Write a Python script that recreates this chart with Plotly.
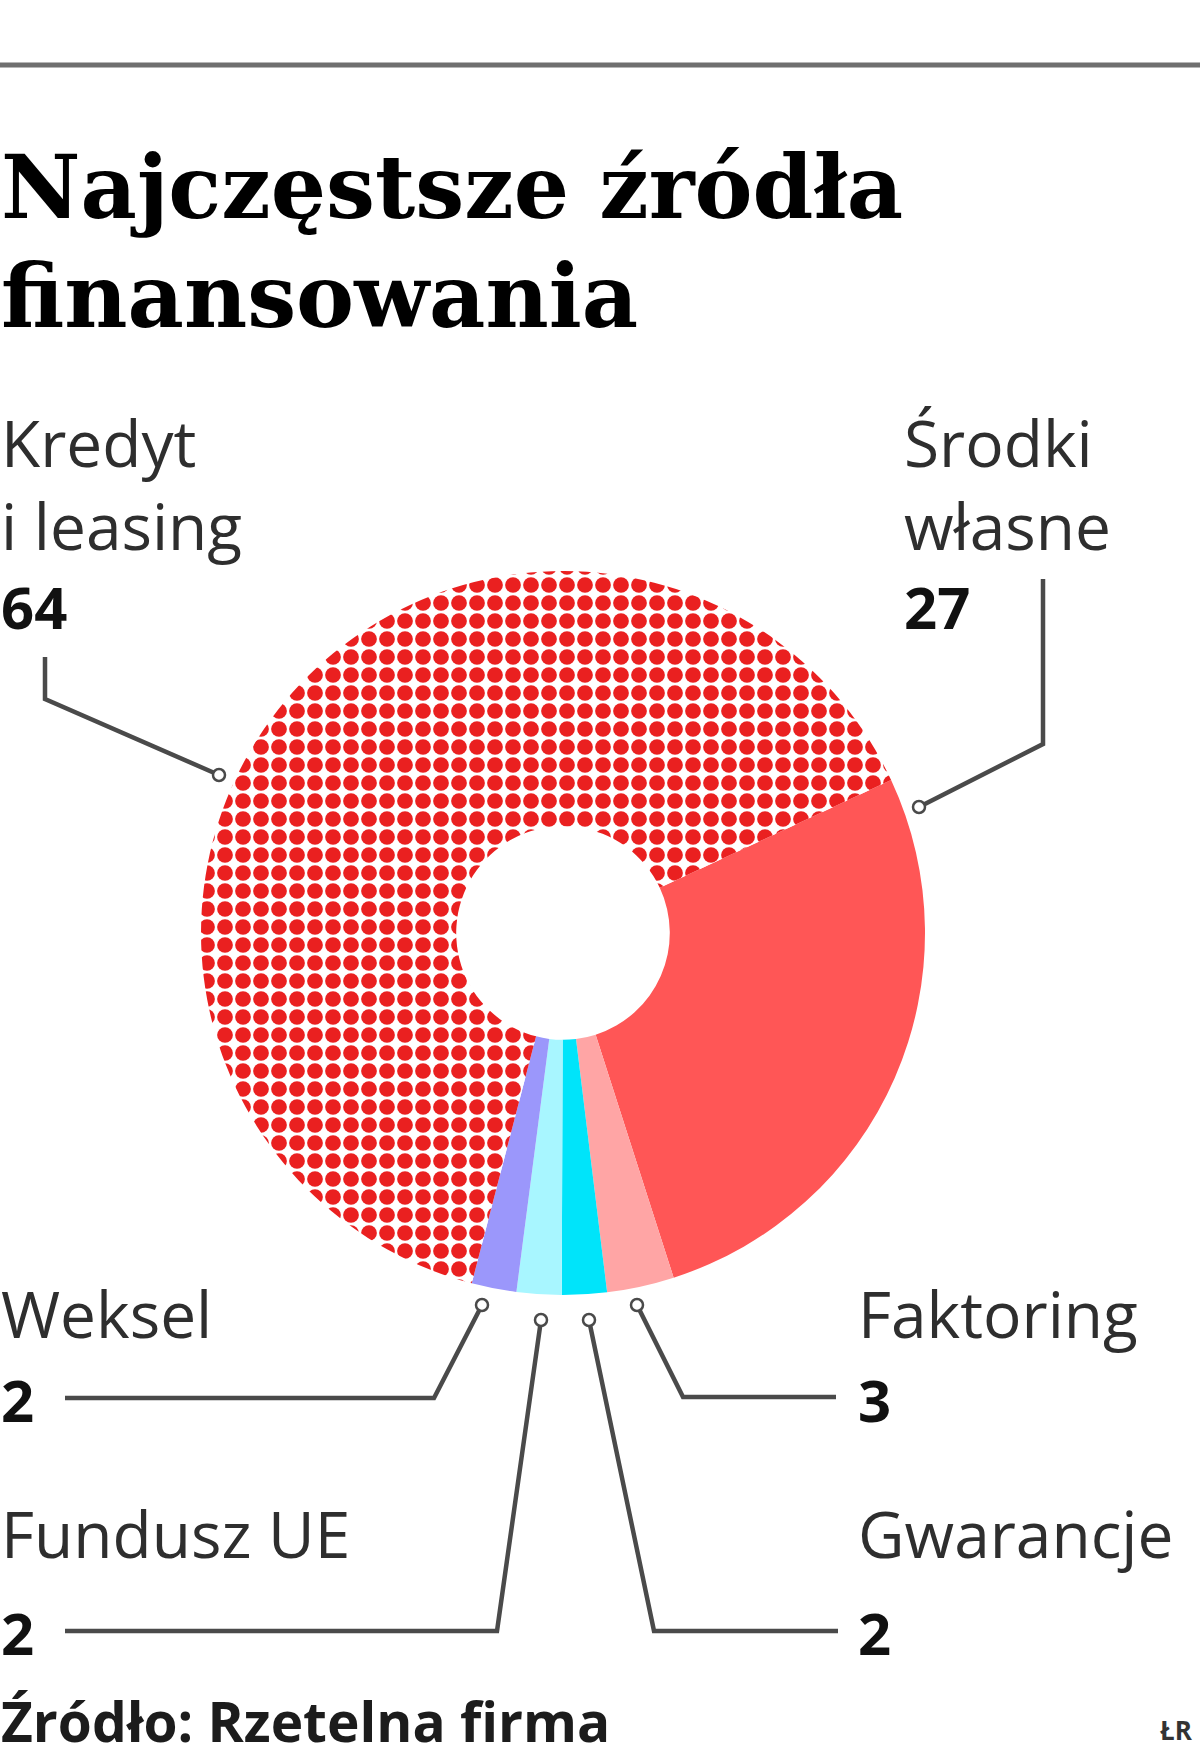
import plotly.graph_objects as go

# ---------------- data ----------------
categories = ["Środki własne", "Faktoring", "Gwarancje", "Fundusz UE", "Weksel", "Kredyt i leasing"]
values = [27, 3, 2, 2, 2, 64]
slice_colors = ["#ff5656", "#ffa5a5", "#00e4fa", "#a8f6ff", "#9b97fb", "#ffffff"]
slice_patterns = ["", "", "", "", "", "."]

title_lines = ["Najczęstsze źródła", "finansowania"]
source_text = "Źródło: Rzetelna firma"
credit_text = "ŁR"

# label text per category (same order as categories)
label_text = {
    "Kredyt i leasing": "Kredyt<br>i leasing",
    "Środki własne": "Środki<br>własne",
    "Weksel": "Weksel",
    "Faktoring": "Faktoring",
    "Fundusz UE": "Fundusz UE",
    "Gwarancje": "Gwarancje",
}

# ---------------- layout constants (pixels) ----------------
W, H = 1200, 1761
CX, CY, R = 563, 933, 362
HOLE = 0.295

LABEL_FONT = "Open Sans"
LABEL_SIZE = 64
NUM_SIZE = 58

# label placement: x, first-line baseline, number baseline
label_pos = {
    "Kredyt i leasing": (0, 462, 624),
    "Środki własne": (903, 462, 624),
    "Weksel": (0, 1333, 1417),
    "Faktoring": (857, 1333, 1417),
    "Fundusz UE": (0, 1553, 1650),
    "Gwarancje": (857, 1553, 1650),
}
# leader lines: polyline points, last point = circle at the ring
leaders = {
    "Kredyt i leasing": [(45, 657), (45, 699), (219, 775)],
    "Środki własne": [(1043, 579), (1043, 744), (919, 807)],
    "Weksel": [(65, 1398), (434, 1398), (482, 1305)],
    "Faktoring": [(836, 1397), (683, 1397), (637, 1305)],
    "Fundusz UE": [(65, 1631), (497, 1631), (541, 1320)],
    "Gwarancje": [(838, 1631), (654, 1631), (589, 1320)],
}

fig = go.Figure()

fig.add_trace(go.Pie(
    labels=categories,
    values=values,
    sort=False,
    direction="clockwise",
    rotation=65,
    hole=HOLE,
    textinfo="none",
    hoverinfo="label+value",
    showlegend=False,
    marker=dict(
        colors=slice_colors,
        line=dict(width=0),
        pattern=dict(shape=slice_patterns, fgcolor="#ea2020", bgcolor="#ffffff",
                     size=18, solidity=0.6, fillmode="replace"),
    ),
    domain=dict(x=[(CX - R) / W, (CX + R) / W],
                y=[1 - (CY + R) / H, 1 - (CY - R) / H]),
))

# invisible pixel axes for annotations / shapes
fig.update_xaxes(range=[0, W], visible=False, fixedrange=True, domain=[0, 1])
fig.update_yaxes(range=[H, 0], visible=False, fixedrange=True, domain=[0, 1])
fig.add_trace(go.Scatter(x=[0, W], y=[0, H], mode="markers",
                         marker=dict(opacity=0), hoverinfo="skip", showlegend=False))

annotations = []
shapes = []


def text_at(x, baseline, text, size, family, color, bold=False, xanchor="left", top_ratio=1.0):
    annotations.append(dict(
        x=x, y=baseline - top_ratio * size, xref="x", yref="y",
        text=f"<b>{text}</b>" if bold else text,
        showarrow=False, xanchor=xanchor, yanchor="top", align="left",
        font=dict(family=family, size=size, color=color),
        borderpad=0,
    ))


# top rule
shapes.append(dict(type="line", xref="paper", yref="y", x0=0, x1=1, y0=65, y1=65,
                   line=dict(color="#6f6f6f", width=5)))

# title
text_at(0, 219, title_lines[0], 87, "DejaVu Serif", "#000000", bold=True, top_ratio=0.96)
text_at(0, 328, title_lines[1], 87, "DejaVu Serif", "#000000", bold=True, top_ratio=0.96)

# labels and numbers
for cat, val in zip(categories, values):
    x, base, num_base = label_pos[cat]
    text_at(x, base, label_text[cat], LABEL_SIZE, LABEL_FONT, "#2e2e2e")
    text_at(x, num_base, str(val), NUM_SIZE, LABEL_FONT, "#111111", bold=True)

# leader lines
for cat in categories:
    pts = leaders[cat]
    path = "M " + " L ".join(f"{px},{py}" for px, py in pts)
    shapes.append(dict(type="path", xref="x", yref="y", path=path,
                       line=dict(color="#4a4a4a", width=4.5)))
    ex, ey = pts[-1]
    shapes.append(dict(type="circle", xref="x", yref="y",
                       x0=ex - 6, x1=ex + 6, y0=ey - 6, y1=ey + 6,
                       fillcolor="#ffffff", line=dict(color="#4a4a4a", width=2.5)))

# footer
text_at(0, 1737, source_text, 55, LABEL_FONT, "#1c1c1c", bold=True)
text_at(1194, 1737, credit_text, 26, LABEL_FONT, "#333333", bold=True, xanchor="right")

fig.update_layout(
    width=W, height=H,
    margin=dict(l=0, r=0, t=0, b=0, pad=0),
    paper_bgcolor="#ffffff", plot_bgcolor="#ffffff",
    annotations=annotations, shapes=shapes,
    showlegend=False,
)

fig.write_html("out.html", config={"displayModeBar": False},
               post_script="document.body.style.margin='0';document.body.style.padding='0';")
